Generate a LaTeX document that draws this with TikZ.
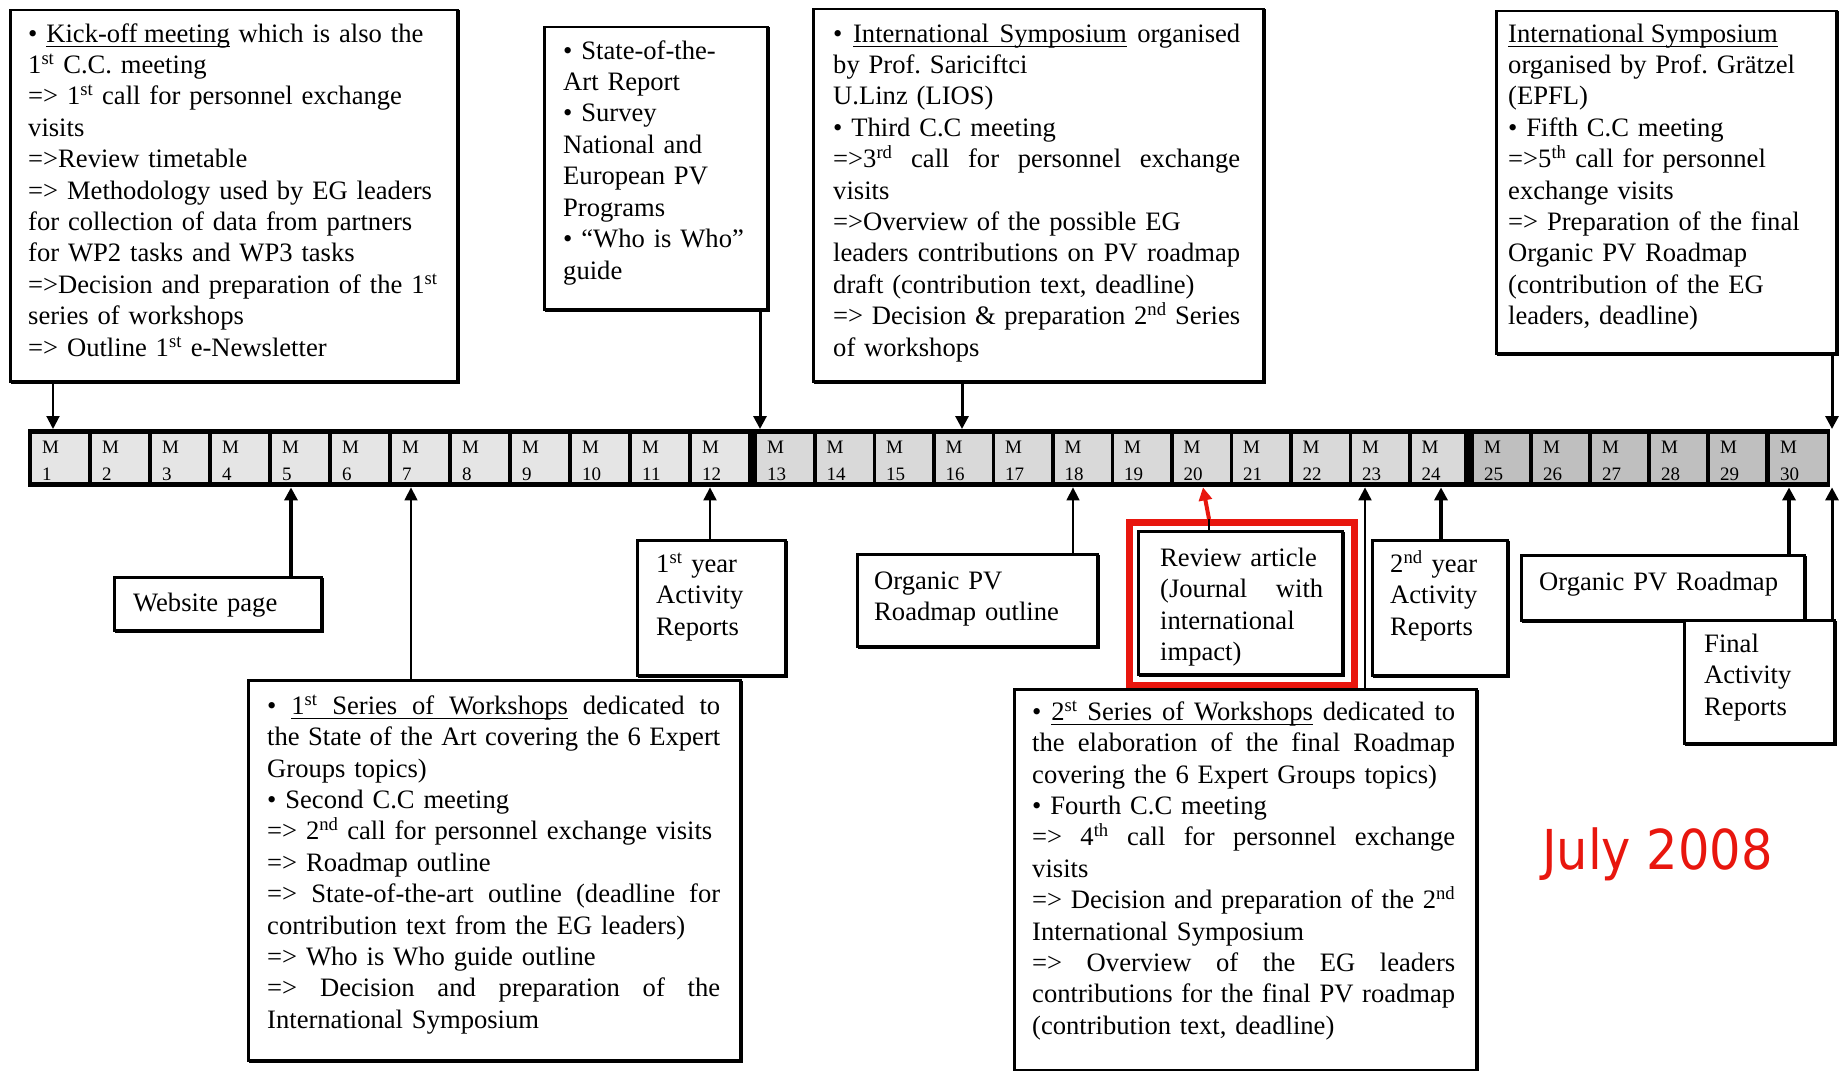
\documentclass[tikz,border=0pt]{standalone}
\usepackage{fontspec}
\setmainfont{Liberation Serif}
\newfontfamily\julyfont[FakeStretch=0.9]{DejaVu Sans}
\usetikzlibrary{arrows.meta,shadows}
\frenchspacing
\definecolor{hlred}{RGB}{232,22,14}
\definecolor{cellA}{gray}{0.90}
\definecolor{cellB}{gray}{0.85}
\definecolor{cellC}{gray}{0.75}
\newsavebox\ulbox
\newcommand\fl{\rule{0pt}{24pt}}
\newcommand\js[2]{\makebox[#1pt][s]{\spaceskip=0.25em plus 1fil minus 0.06em\relax #2}}
\newcommand\sps[1]{\textsuperscript{#1}}
\newcommand\uw[1]{\sbox\ulbox{#1}\rlap{\rule[-5pt]{\wd\ulbox}{1.3pt}}\usebox\ulbox}
\newcommand\us{\leaders\hrule height -3.7pt depth 5pt\hskip 0.25em plus 1fil minus 0.06em\relax}
\newcommand\usf{\leaders\hrule height -3.7pt depth 5pt\hskip 0.25em\relax}
\begin{document}
\begin{tikzpicture}[x=1pt,y=-1pt,
  box/.style={draw=black, line width=2.5pt, fill=white, inner sep=0pt, anchor=north west,
    copy shadow={shadow xshift=1.5pt, shadow yshift=-1.5pt}},
  txt/.style={anchor=north west, inner sep=0pt, align=left, font=\fontsize{26.6pt}{31.4pt}\selectfont},
  cell/.style={anchor=north west, inner sep=0pt, minimum height=48pt},
  celltxt/.style={anchor=north west, inner sep=0pt, align=left, text width=45pt, font=\fontsize{19pt}{27pt}\selectfont},
  arr/.style={-{Triangle[width=13pt,length=13pt]}, line width=2.5pt},
  thinarr/.style={arr, line width=1.5pt},
]
\useasboundingbox (0,0) rectangle (1843,1070);
\fill[white] (0,0) rectangle (1843,1070);

% ---------- timeline bar ----------
\node[anchor=north west, fill=black, inner sep=0pt, minimum width=1802pt, minimum height=58pt] (bar) at (28,429) {};
\foreach \i/\x/\w/\c in {1/32/56/cellA, 2/92/56/cellA, 3/152/56/cellA, 4/212/56/cellA,
  5/272/56/cellA, 6/332/56/cellA, 7/392/56/cellA, 8/452/56/cellA, 9/512/56/cellA,
  10/572/56/cellA, 11/632/56/cellA, 12/692/56/cellA,
  13/757/56/cellB, 14/816.5/56/cellB, 15/876/56/cellB, 16/935.5/56/cellB, 17/995/56/cellB,
  18/1054.5/56/cellB, 19/1114/56/cellB, 20/1173.5/56/cellB, 21/1233/56/cellB,
  22/1292.5/56/cellB, 23/1352/56/cellB, 24/1411.5/52/cellB,
  25/1474/55/cellC, 26/1533/55/cellC, 27/1592/55/cellC, 28/1651/55/cellC,
  29/1710/55/cellC, 30/1770/57/cellC}{
  \node[cell, fill=\c, minimum width=\w*1pt] (c\i) at (\x,434) {};
  \node[celltxt] (m\i) at (\x+10,436) {\rule{0pt}{17pt}M\\\i};
}

% ---------- boxes above ----------
\node[box, minimum width=447pt, minimum height=371pt] (A) at (9,9) {};
\node[txt, text width=445pt] (tA) at (28,18) {\fl\textbullet{} \uw{Kick-off}\usf\uw{meeting} which is also the\\
1\sps{st} C.C. meeting\\
=> 1\sps{st} call for personnel exchange\\
visits\\
=>Review timetable\\
=> Methodology used by EG leaders\\
for collection of data from partners\\
for WP2 tasks and WP3 tasks\\
=>Decision and preparation of the 1\sps{st}\\
series of workshops\\
=> Outline 1\sps{st} e-Newsletter};

\node[box, minimum width=223pt, minimum height=282pt] (B) at (543,26) {};
\node[txt, text width=200pt] (tB) at (563,35) {\fl\textbullet{} State-of-the-\\
Art Report\\
\textbullet{} Survey\\
National and\\
European PV\\
Programs\\
\textbullet{} “Who is Who”\\
guide};

\node[box, minimum width=450pt, minimum height=372pt] (C) at (812,8) {};
\node[txt, text width=430pt] (tC) at (833,18) {\fl\js{407}{\textbullet{} \uw{International}\us\uw{Symposium} organised}\\
by Prof. Sariciftci\\
U.Linz (LIOS)\\
\textbullet{} Third C.C meeting\\
\js{407}{=>3\sps{rd} call for personnel exchange}\\
visits\\
=>Overview of the possible EG\\
\js{407}{leaders contributions on PV roadmap}\\
draft (contribution text, deadline)\\
\js{407}{=> Decision \& preparation 2\sps{nd} Series}\\
of workshops};

\node[box, minimum width=340pt, minimum height=342pt] (D) at (1495,10) {};
\node[txt, text width=320pt] (tD) at (1508,18) {\fl\uw{International}\usf\uw{Symposium}\\
organised by Prof. Grätzel\\
(EPFL)\\
\textbullet{} Fifth C.C meeting\\
=>5\sps{th} call for personnel\\
exchange visits\\
=> Preparation of the final\\
Organic PV Roadmap\\
(contribution of the EG\\
leaders, deadline)};

% ---------- boxes below ----------
\node[box, minimum width=207pt, minimum height=53pt] (W) at (113,576) {};
\node[txt, text width=180pt] (tW) at (133,587) {\fl Website page};

\node[box, minimum width=148pt, minimum height=135pt] (F) at (636,539) {};
\node[txt, text width=120pt] (tF) at (656,548) {\fl 1\sps{st} year\\Activity\\Reports};

\node[box, minimum width=492pt, minimum height=380pt] (E) at (247,679) {};
\node[txt, text width=480pt] (tE) at (267,690) {\fl\js{453}{\textbullet{} \uw{1\sps{st}}\us\uw{Series}\us\uw{of}\us\uw{Workshops} dedicated to}\\
\js{453}{the State of the Art covering the 6 Expert}\\
Groups topics)\\
\textbullet{} Second C.C meeting\\
=> 2\sps{nd} call for personnel exchange visits\\
=> Roadmap outline\\
\js{453}{=> State-of-the-art outline (deadline for}\\
contribution text from the EG leaders)\\
=> Who is Who guide outline\\
\js{453}{=> Decision and preparation of the}\\
International Symposium};

\node[box, minimum width=240pt, minimum height=92pt] (G) at (856,553) {};
\node[txt, text width=210pt] (tG) at (874,565) {\fl Organic PV\\Roadmap outline};

\node[anchor=north west, draw=hlred, line width=7pt, inner sep=0pt, minimum width=225pt, minimum height=163pt] (H) at (1126,519) {};
\node[box, minimum width=204pt, minimum height=143pt] (I) at (1137,530) {};
\node[txt, text width=180pt] (tI) at (1160,542) {\fl Review article\\
\js{163}{(Journal with}\\
international\\
impact)};

\node[box, minimum width=135pt, minimum height=135pt] (J) at (1371,539) {};
\node[txt, text width=110pt] (tJ) at (1390,548) {\fl 2\sps{nd} year\\Activity\\Reports};

\node[box, minimum width=462pt, minimum height=381pt] (K) at (1013,688) {};
\node[txt, text width=440pt] (tK) at (1032,696) {\fl\js{423}{\textbullet{} \uw{2\sps{st}}\us\uw{Series}\us\uw{of}\us\uw{Workshops} dedicated to}\\
\js{423}{the elaboration of the final Roadmap}\\
covering the 6 Expert Groups topics)\\
\textbullet{} Fourth C.C meeting\\
\js{423}{=> 4\sps{th} call for personnel exchange}\\
visits\\
\js{423}{=> Decision and preparation of the 2\sps{nd}}\\
International Symposium\\
\js{423}{=> Overview of the EG leaders}\\
\js{423}{contributions for the final PV roadmap}\\
(contribution text, deadline)};

\node[box, minimum width=283pt, minimum height=65pt] (L) at (1520,554) {};
\node[txt, text width=260pt] (tL) at (1539,566) {\fl Organic PV Roadmap};

\node[box, minimum width=150pt, minimum height=123pt] (M) at (1683,619) {};
\node[txt, text width=120pt] (tM) at (1704,628) {\fl Final\\Activity\\Reports};

\node[anchor=base west, inner sep=0pt, text=hlred, font=\julyfont\fontsize{55pt}{60pt}\selectfont] (july) at (1542,869) {July 2008};

% ---------- connectors ----------
\coordinate (xA) at (53,0);
\coordinate (xB) at (760,0);
\coordinate (xC) at (962,0);
\coordinate (xD) at (1832,0);
\coordinate (xW) at (291,0);
\coordinate (xE) at (411,0);
\coordinate (xF) at (710,0);
\coordinate (xG) at (1073,0);
\coordinate (xR1) at (1209,0);
\coordinate (xR2) at (1203,0);
\coordinate (xK) at (1365,0);
\coordinate (xJ) at (1441,0);
\coordinate (xL) at (1789,0);
\coordinate (xM) at (1832,0);

\draw[arr, line width=2pt] (A.south -| xA) -- (bar.north -| xA);
\draw[arr, line width=3pt] (B.south -| xB) -- (bar.north -| xB);
\draw[arr, line width=3pt] (C.south -| xC) -- (bar.north -| xC);
\draw[arr, line width=3pt] (D.south -| xD) -- (bar.north -| xD);

\draw[arr, line width=3.5pt] (W.north -| xW) -- (bar.south -| xW);
\draw[thinarr] (E.north -| xE) -- (bar.south -| xE);
\draw[arr, line width=2pt] (F.north -| xF) -- (bar.south -| xF);
\draw[thinarr] (G.north -| xG) -- (bar.south -| xG);
\draw[line width=2pt] (I.north -| xR1) -- (H.north -| xR1);
\draw[arr, color=hlred, line width=4pt] (H.north -| xR1) -- (bar.south -| xR2);
\draw[arr, line width=2pt] (K.north -| xK) -- (bar.south -| xK);
\draw[arr, line width=3.5pt] (J.north -| xJ) -- (bar.south -| xJ);
\draw[arr, line width=3.5pt] (L.north -| xL) -- (bar.south -| xL);
\draw[arr, line width=3pt] (M.north -| xM) -- (bar.south -| xM);
\end{tikzpicture}
\end{document}
